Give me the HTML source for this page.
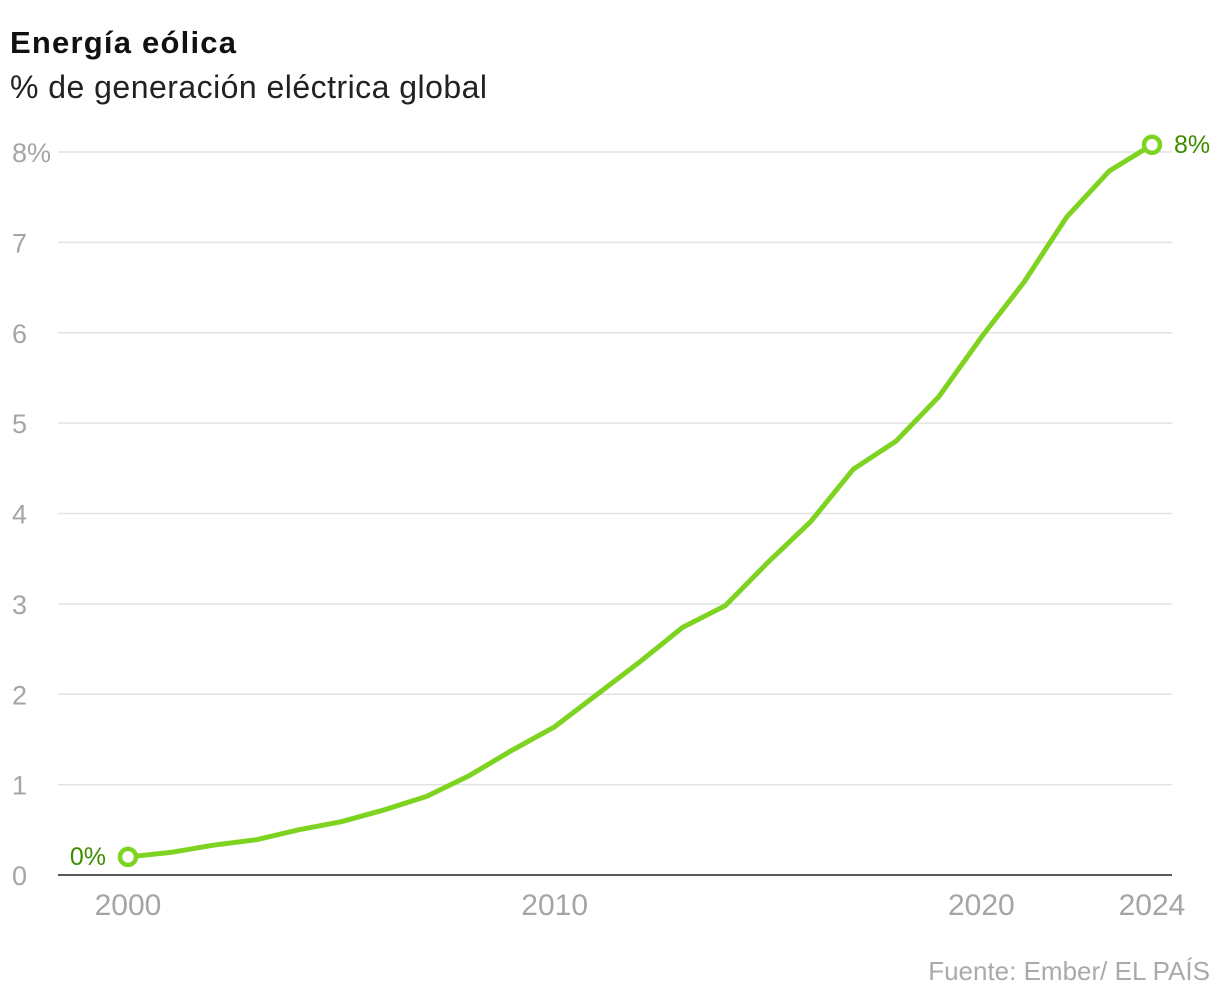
<!DOCTYPE html>
<html><head><meta charset="utf-8"><style>
body{margin:0;background:#fff;font-family:"Liberation Sans",sans-serif;}
svg{display:block}
</style></head><body>
<svg id="chart" width="1220" height="1002">
<text x="10" y="53" font-size="31" font-weight="bold" fill="#111" textLength="226">Energía eólica</text>
<text x="10" y="98" font-size="32" fill="#222" textLength="477">% de generación eléctrica global</text>
<g id="grid"></g><g id="yticks"></g><g id="xticks"></g><g id="series"></g>
<text x="1210" y="980" font-size="26" fill="#aaa" text-anchor="end">Fuente: Ember/ EL PAÍS</text>
</svg>
<script>
const years=[2000,2001,2002,2003,2004,2005,2006,2007,2008,2009,2010,2011,2012,2013,2014,2015,2016,2017,2018,2019,2020,2021,2022,2023,2024];
const values=[0.20,0.25,0.33,0.39,0.50,0.59,0.72,0.87,1.10,1.38,1.64,2.00,2.36,2.74,2.98,3.46,3.91,4.49,4.80,5.29,5.95,6.56,7.28,7.79,8.08];
const yTicks=[0,1,2,3,4,5,6,7,8];
const yTickLabels=["0","1","2","3","4","5","6","7","8%"];
const xTicks=[2000,2010,2020,2024];
const NS="http://www.w3.org/2000/svg";
const x=v=>128+(v-2000)*(1152-128)/24;
const y=v=>875-v*(875-152)/8;
function mk(tag,attrs,parent,text){const e=document.createElementNS(NS,tag);for(const k in attrs)e.setAttribute(k,attrs[k]);if(text!==undefined)e.textContent=text;parent.appendChild(e);return e;}
const grid=document.getElementById('grid'),yt=document.getElementById('yticks'),xt=document.getElementById('xticks'),se=document.getElementById('series');
yTicks.forEach((t,i)=>{
 const l=mk('line',{x1:58,x2:1172,y1:y(t),y2:y(t),stroke:t===0?'#222':'#e2e2e2','stroke-width':1.5},grid);
 
 
 const tx=mk('text',{x:12,y:y(t)+10,'font-size':27,fill:'#a5a5a5'},yt,yTickLabels[i]);
 
 
});
xTicks.forEach(t=>{
 const tx=mk('text',{x:x(t),y:915,'font-size':30,fill:'#a5a5a5','text-anchor':'middle'},xt,String(t));
 
 
});
const p=mk('polyline',{points:years.map((yr,i)=>x(yr)+','+y(values[i])).join(' '),fill:'none',stroke:'#7ed321','stroke-width':5,'stroke-linejoin':'round'},se);


[[0,'start'],[years.length-1,'end']].forEach(([i,n])=>{
 const c=mk('circle',{cx:x(years[i]),cy:y(values[i]),r:8,fill:'#fff',stroke:'#7ed321','stroke-width':4.5},se);
 
 
});
const l0=mk('text',{x:x(years[0])-22,y:y(values[0])+8,'font-size':25,fill:'#3c8c00','text-anchor':'end'},se,Math.round(values[0])+'%');


const l1=mk('text',{x:x(years[years.length-1])+22,y:y(values[values.length-1])+8,'font-size':25,fill:'#3c8c00'},se,Math.round(values[values.length-1])+'%');


</script>
</body></html>
